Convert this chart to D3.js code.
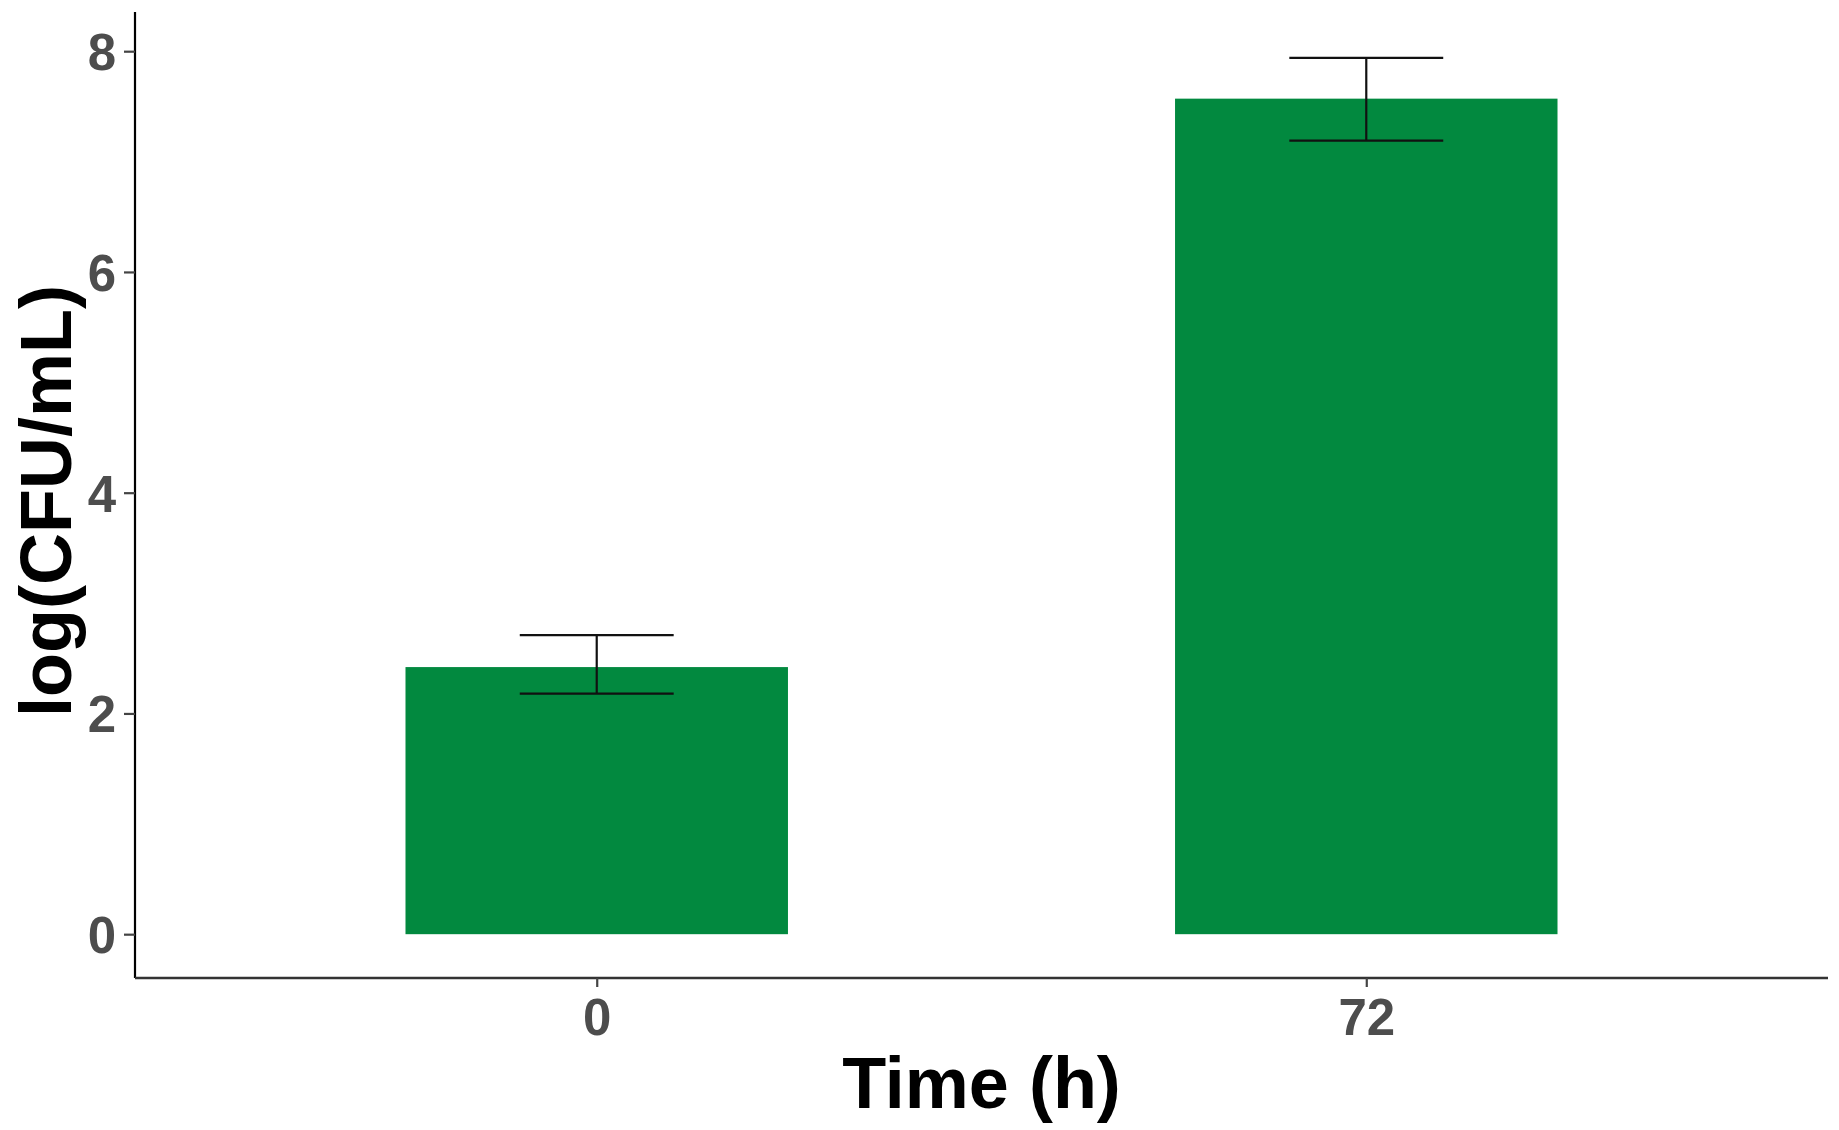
<!DOCTYPE html>
<html>
<head>
<meta charset="utf-8">
<script src="https://cdn.jsdelivr.net/npm/d3@7"></script>
<style>
  html, body { margin: 0; padding: 0; background: #ffffff; }
  svg { display: block; }
</style>
</head>
<body>
<script>
// ---- data ----
const categories = ["0", "72"];
const means = [2.42, 7.57];
const errLow = [2.18, 7.19];
const errHigh = [2.71, 7.94];
const yTicks = [0, 2, 4, 6, 8];
const xTitle = "Time (h)";
const yTitle = "log(CFU/mL)";

const W = 1839, H = 1130;
const plotLeft = 135, plotRight = 1828, plotTop = 14, plotBottom = 978;

const svg = d3.select("body").append("svg").attr("width", W).attr("height", H);

// ggplot-like expansion
const yMax = d3.max(errHigh), yMin = 0;
const span = yMax - yMin;
const y = d3.scaleLinear()
  .domain([yMin - 0.05 * span, yMax + 0.05 * span])
  .range([plotBottom, plotTop]);

const x = d3.scalePoint()
  .domain(categories)
  .range([plotLeft, plotRight])
  .padding(0.6 / 0.5 * 0.5 * 2 / 2 * 1.2); // 0.6 units expansion each side
const step = (plotRight - plotLeft) / (categories.length - 1 + 1.2);
x.range([plotLeft + 0.6 * step, plotRight - 0.6 * step]).padding(0);

const barW = 0.497 * step;
const capW = 0.2 * step;
const green = "#02893f";

// bars
svg.selectAll("rect.bar").data(categories).enter().append("rect")
  .attr("class", "bar")
  .attr("x", d => x(d) - barW / 2)
  .attr("width", barW)
  .attr("y", (d, i) => y(means[i]))
  .attr("height", (d, i) => y(0) - y(means[i]))
  .attr("fill", green);

// error bars
const eb = svg.selectAll("g.err").data(categories).enter().append("g").attr("class", "err")
  .attr("stroke", "#111").attr("stroke-width", 2.2).attr("fill", "none");
eb.append("line").attr("x1", d => x(d)).attr("x2", d => x(d))
  .attr("y1", (d, i) => y(errLow[i])).attr("y2", (d, i) => y(errHigh[i]));
eb.append("line").attr("x1", d => x(d) - capW / 2).attr("x2", d => x(d) + capW / 2)
  .attr("y1", (d, i) => y(errHigh[i])).attr("y2", (d, i) => y(errHigh[i]));
eb.append("line").attr("x1", d => x(d) - capW / 2).attr("x2", d => x(d) + capW / 2)
  .attr("y1", (d, i) => y(errLow[i])).attr("y2", (d, i) => y(errLow[i]));

// y axis
const yAxis = d3.axisLeft(y).tickValues(yTicks).tickSize(11).tickPadding(8).tickFormat(d3.format("d"));
const gy = svg.append("g").attr("transform", `translate(${plotLeft},0)`).call(yAxis);
gy.select(".domain").attr("stroke", "#000").attr("stroke-width", 2.2).attr("d", `M0,${plotTop - 2}V${plotBottom}`);
gy.selectAll(".tick line").attr("stroke", "#444").attr("stroke-width", 2.2);
gy.selectAll(".tick text")
  .attr("font-family", "Liberation Sans, Arial, sans-serif")
  .attr("font-weight", "bold").attr("font-size", 51).attr("fill", "#4d4d4d")
  .attr("dy", "0.36em");

// x axis
const xAxis = d3.axisBottom(x).tickSize(9).tickPadding(12);
const gx = svg.append("g").attr("transform", `translate(0,${plotBottom})`).call(xAxis);
gx.select(".domain").attr("stroke", "#333").attr("stroke-width", 2.4).attr("d", `M${plotLeft},0H${plotRight}`);
gx.selectAll(".tick line").attr("stroke", "#444").attr("stroke-width", 2.2);
gx.selectAll(".tick text")
  .attr("font-family", "Liberation Sans, Arial, sans-serif")
  .attr("font-weight", "bold").attr("font-size", 51).attr("fill", "#4d4d4d")
  .attr("dy", "0.71em");

// titles
svg.append("text")
  .attr("x", (plotLeft + plotRight) / 2).attr("y", 1108)
  .attr("text-anchor", "middle")
  .attr("font-family", "Liberation Sans, Arial, sans-serif")
  .attr("font-weight", "bold").attr("font-size", 72).attr("fill", "#000")
  .text(xTitle);

svg.append("text")
  .attr("transform", `translate(71,${501}) rotate(-90)`)
  .attr("text-anchor", "middle")
  .attr("font-family", "Liberation Sans, Arial, sans-serif")
  .attr("font-weight", "bold").attr("font-size", 72).attr("fill", "#000")
  .text(yTitle);
</script>
</body>
</html>
